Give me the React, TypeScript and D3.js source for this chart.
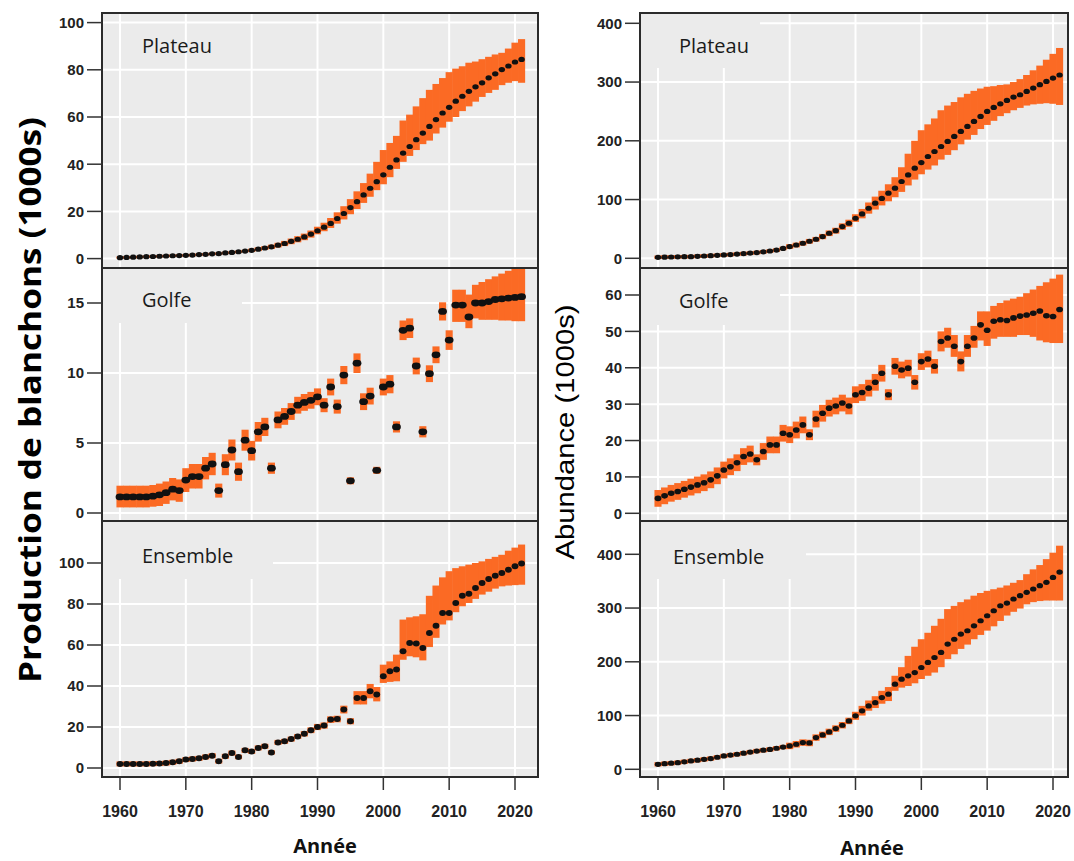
import * as d3 from 'd3'
import React from 'react'

// années 1960 à 2021
const years = d3.range(1960, 2022)
const yearTicks = [1960, 1970, 1980, 1990, 2000, 2010, 2020]

const plateauProdTicks = [0, 20, 40, 60, 80, 100]
const golfeProdTicks = [0, 5, 10, 15]
const ensembleProdTicks = [0, 20, 40, 60, 80, 100]
const plateauAbunTicks = [0, 100, 200, 300, 400]
const golfeAbunTicks = [0, 10, 20, 30, 40, 50, 60]
const ensembleAbunTicks = [0, 100, 200, 300, 400]

// Production de blanchons - Plateau
const plateauProdMean = [
  0.4, 0.5, 0.6, 0.7, 0.8, 0.9, 1.0, 1.1, 1.2, 1.3,
  1.4, 1.5, 1.7, 1.8, 2.0, 2.1, 2.4, 2.6, 2.9, 3.2,
  3.5, 4.0, 4.5, 5.0, 5.7, 6.4, 7.3, 8.2, 9.2, 10.4,
  11.8, 13.3, 14.9, 17.0, 19.1, 21.6, 24.1, 27.0, 29.8, 32.6,
  35.5, 38.7, 41.8, 44.7, 47.5, 50.4, 53.2, 56.0, 58.9, 61.7,
  64.1, 66.7, 68.8, 70.9, 72.8, 74.5, 76.6, 78.3, 80.1, 81.6, 83.3, 84.4,
]
const plateauProdLow = [
  0.0, 0.0, 0.1, 0.2, 0.3, 0.4, 0.5, 0.6, 0.7, 0.8,
  0.9, 1.0, 1.2, 1.3, 1.5, 1.6, 1.9, 2.1, 2.4, 2.7,
  2.8, 3.2, 3.7, 4.1, 4.7, 5.3, 6.1, 6.9, 7.8, 8.9,
  10.3, 11.6, 13.0, 14.8, 16.6, 18.8, 21.0, 23.6, 26.2, 29.0,
  31.5, 34.5, 38.0, 41.0, 43.5, 46.0, 48.5, 50.0, 53.0, 55.5,
  58.0, 60.0, 62.5, 64.5, 66.5, 68.5, 70.2, 71.5, 73.5, 74.5, 75.2, 74.5,
]
const plateauProdHigh = [
  0.9, 1.0, 1.1, 1.2, 1.3, 1.4, 1.5, 1.6, 1.7, 1.8,
  1.9, 2.0, 2.2, 2.3, 2.5, 2.6, 2.9, 3.1, 3.4, 3.7,
  4.2, 4.8, 5.3, 5.9, 6.7, 7.5, 8.5, 9.5, 10.6, 11.9,
  13.5, 15.2, 17.2, 19.6, 22.2, 25.2, 28.5, 32.0, 36.0, 41.0,
  46.0, 49.0, 52.0, 58.5, 61.0, 64.5, 68.0, 71.5, 74.0, 76.5,
  79.0, 80.5, 81.5, 83.0, 83.5, 84.5, 85.5, 86.5, 87.2, 89.0, 91.5, 93.0,
]

// Production de blanchons - Golfe
const golfeProdMean = [
  1.15, 1.15, 1.15, 1.15, 1.15, 1.2, 1.3, 1.45, 1.7, 1.6,
  2.35, 2.6, 2.6, 3.2, 3.5, 1.6, 3.45, 4.5, 2.95, 5.2,
  4.45, 5.8, 6.15, 3.2, 6.65, 6.9, 7.25, 7.7, 7.9, 8.05,
  8.3, 7.7, 9.0, 7.6, 9.85, 2.3, 10.7, 7.95, 8.35, 3.05,
  9.0, 9.2, 6.15, 13.05, 13.2, 10.5, 5.8, 9.95, 11.3, 14.4,
  12.35, 14.85, 14.85, 14.0, 15.0, 15.0, 15.1, 15.25, 15.3, 15.35, 15.4, 15.45,
]
const golfeProdLow = [
  0.4, 0.4, 0.4, 0.4, 0.4, 0.45, 0.5, 0.65, 0.9, 0.8,
  1.5, 1.75, 1.75, 2.4, 2.7, 1.1, 2.7, 3.75, 2.3, 4.45,
  3.75, 5.1, 5.5, 2.8, 6.05, 6.3, 6.65, 7.1, 7.3, 7.45,
  7.7, 7.2, 8.4, 7.1, 9.2, 2.05, 10.0, 7.35, 7.75, 2.8,
  8.4, 8.55, 5.75, 12.35, 12.5, 9.9, 5.4, 9.35, 10.7, 13.75,
  11.65, 13.65, 13.65, 13.2, 13.9, 13.8, 13.8, 13.8, 13.75, 13.75, 13.7, 13.7,
]
const golfeProdHigh = [
  1.95, 1.95, 1.95, 1.95, 1.95, 2.0, 2.1, 2.25, 2.5, 2.4,
  3.2, 3.5, 3.5, 4.0, 4.3, 2.1, 4.2, 5.25, 3.6, 5.95,
  5.15, 6.5, 6.8, 3.6, 7.25, 7.5, 7.85, 8.3, 8.5, 8.65,
  8.9, 8.2, 9.6, 8.1, 10.5, 2.55, 11.4, 8.55, 8.95, 3.3,
  9.6, 9.85, 6.55, 13.75, 13.9, 11.1, 6.2, 10.55, 11.9, 15.05,
  13.05, 15.95, 15.95, 15.6, 16.3, 16.5, 16.7, 16.9, 17.1, 17.3, 17.5, 17.6,
]

// Production de blanchons - Ensemble
const ensembleProdMean = [
  2.0, 2.0, 2.0, 2.0, 2.0, 2.1, 2.2, 2.4, 2.8, 3.3,
  4.1, 4.4, 4.7, 5.4, 6.0, 3.3, 5.7, 7.3, 5.4, 8.6,
  8.1, 9.8, 10.6, 7.6, 12.5, 13.0, 14.1, 15.4, 16.7, 18.4,
  20.0, 20.7, 23.6, 23.9, 28.5, 22.8, 34.1, 34.1, 37.4, 35.8,
  44.7, 47.2, 48.0, 56.9, 61.0, 60.7, 58.5, 65.9, 69.4, 75.6,
  75.6, 80.5, 84.0, 85.0, 87.8, 90.2, 92.2, 93.8, 95.1, 96.7, 98.4, 99.7,
]
const ensembleProdLow = [
  0.8, 0.8, 0.8, 0.8, 0.8, 0.9, 1.0, 1.2, 1.6, 2.1,
  2.9, 3.2, 3.5, 4.2, 4.8, 2.2, 4.5, 6.1, 4.3, 7.4,
  6.9, 8.6, 9.4, 6.6, 11.3, 11.8, 12.9, 14.2, 15.4, 17.0,
  18.5, 19.2, 22.0, 22.3, 26.6, 21.3, 31.0, 31.0, 34.0, 32.5,
  41.5, 42.0, 42.3, 52.8, 54.5, 54.0, 52.5, 59.0, 63.5, 70.0,
  72.0, 76.0, 78.9, 80.5, 82.5, 84.6, 86.0, 87.5, 88.6, 89.0, 89.2, 89.4,
]
const ensembleProdHigh = [
  3.2, 3.2, 3.2, 3.2, 3.2, 3.3, 3.4, 3.6, 4.0, 4.5,
  5.3, 5.6, 5.9, 6.6, 7.2, 4.4, 6.9, 8.5, 6.5, 9.8,
  9.3, 11.0, 11.8, 8.6, 13.7, 14.2, 15.3, 16.6, 18.0, 19.8,
  21.5, 22.2, 25.2, 25.5, 30.4, 24.3, 37.5, 37.5, 41.0, 39.5,
  50.4, 52.0, 55.3, 72.4, 73.5, 74.0, 75.0, 84.0, 89.0, 93.0,
  96.0, 97.5, 98.4, 99.2, 100.0, 100.8, 102.0, 103.0, 104.0, 106.0, 107.5, 109.0,
]

// Abondance - Plateau
const plateauAbunMean = [
  1.7, 2.0, 2.2, 2.5, 2.7, 2.8, 3.4, 3.9, 4.5, 5.1,
  5.7, 6.4, 7.2, 8.0, 8.8, 9.7, 11.0, 12.4, 14.0, 16.8,
  20.0, 22.6, 25.6, 29.0, 32.4, 37.0, 42.6, 47.0, 54.0, 59.7,
  68.2, 75.6, 85.2, 93.8, 102.0, 110.8, 119.3, 130.7, 142.0, 153.4,
  163.0, 173.3, 181.8, 190.3, 198.9, 207.4, 216.0, 224.4, 233.0, 241.5,
  250.0, 256.8, 263.0, 268.8, 274.4, 278.4, 284.0, 289.8, 295.5, 301.0, 306.8, 312.0,
]
const plateauAbunLow = [
  -1.3, -1.0, -0.8, -0.5, -0.3, -0.2, 0.4, 0.9, 1.5, 2.1,
  2.7, 3.4, 4.2, 5.0, 5.8, 6.7, 8.0, 9.4, 11.0, 13.8,
  16.0, 18.6, 21.6, 25.0, 28.4, 32.5, 37.8, 42.0, 48.5, 53.7,
  62, 68, 76, 83, 90, 97, 104, 113, 124, 134,
  143, 151, 158, 168, 176, 184, 194, 202, 210, 220,
  227, 234, 242, 247, 252, 256, 260, 262, 263, 264, 263, 261,
]
const plateauAbunHigh = [
  4.7, 5.0, 5.2, 5.5, 5.7, 5.8, 6.4, 6.9, 7.5, 8.1,
  8.7, 9.4, 10.2, 11.0, 11.8, 12.7, 14.0, 15.4, 17.0, 19.8,
  24.0, 26.6, 29.6, 33.0, 36.4, 41.5, 47.4, 52.0, 59.5, 65.7,
  75, 84, 95, 105, 115, 126, 138, 155, 178, 200,
  218, 228, 238, 252, 260, 266, 274, 280, 285, 289,
  292, 293, 295, 296, 300, 305, 312, 320, 328, 338, 348, 358,
]

// Abondance - Golfe
const golfeAbunMean = [
  4.1, 4.8, 5.5, 6.0, 6.6, 7.2, 7.8, 8.4, 9.2, 10.3,
  11.9, 12.8, 13.9, 15.6, 16.3, 14.7, 17.0, 18.8, 18.8, 22.0,
  21.6, 22.9, 24.3, 21.6, 25.9, 27.5, 28.9, 29.5, 30.3, 29.5,
  32.6, 33.2, 34.4, 36.0, 38.5, 32.6, 40.4, 39.4, 39.9, 36.0,
  41.7, 42.4, 40.4, 47.2, 48.2, 45.9, 41.7, 45.9, 48.2, 51.8,
  50.3, 52.8, 53.2, 53.0, 53.7, 54.2, 54.5, 55.0, 55.6, 54.3, 54.1, 56.0,
]
const golfeAbunLow = [
  1.8, 2.5, 3.2, 3.7, 4.3, 4.9, 5.5, 6.1, 6.9, 8.0,
  9.6, 10.5, 11.6, 13.3, 14.0, 13.2, 14.7, 16.5, 16.5, 19.7,
  19.3, 20.6, 22.0, 20.1, 23.6, 25.2, 26.6, 27.2, 28.0, 27.2,
  30.3, 30.9, 32.1, 33.7, 36.2, 31.1, 38.1, 37.1, 37.6, 34.0,
  39.4, 40.1, 38.4, 44.5, 45.5, 43.0, 39.0, 43.0, 45.5, 47.5,
  46.0, 48.0, 48.5, 48.5, 48.5, 49.0, 49.0, 48.5, 47.5, 47.0, 46.8, 46.8,
]
const golfeAbunHigh = [
  6.4, 7.1, 7.8, 8.3, 8.9, 9.5, 10.1, 10.7, 11.5, 12.6,
  14.2, 15.1, 16.2, 17.9, 18.6, 16.2, 19.3, 21.1, 21.1, 24.3,
  23.9, 25.2, 26.6, 23.1, 28.2, 29.8, 31.2, 31.8, 32.6, 31.8,
  34.9, 35.5, 36.7, 38.3, 40.8, 34.1, 42.7, 41.7, 42.2, 38.0,
  44.0, 44.7, 42.4, 50.0, 51.0, 49.0, 44.5, 49.0, 51.5, 55.5,
  55.5, 57.0, 57.8, 58.5, 59.0, 59.5, 60.5, 61.5, 62.5, 63.5, 64.5, 65.6,
]

// Abondance - Ensemble
const ensembleAbunMean = [
  9.3, 10.4, 11.4, 12.4, 14.0, 15.5, 17.0, 18.5, 20.0, 22.4,
  24.8, 26.4, 28.0, 30.0, 32.0, 34.0, 35.5, 37.0, 39.2, 41.4,
  43.5, 46.6, 49.7, 49.0, 59.0, 64.0, 69.6, 75.8, 82.0, 90.0,
  99.4, 108.7, 118.0, 124.0, 133.5, 139.8, 158.4, 167.7, 174.0, 180.0,
  189.4, 198.8, 208.0, 217.4, 233.0, 242.0, 251.6, 257.8, 267.0, 276.4,
  285.7, 295.0, 304.3, 309.3, 316.8, 323.0, 329.2, 335.4, 341.6, 347.8, 357.0, 367.0,
]
const ensembleAbunLow = [
  5.3, 6.4, 7.4, 8.4, 10.0, 11.5, 13.0, 14.5, 16.0, 18.4,
  20.8, 22.4, 24.0, 26.0, 28.0, 30.0, 31.5, 33.0, 35.2, 37.4,
  37.5, 40.6, 43.7, 43.0, 53.0, 58.0, 63.6, 69.8, 76.0, 84.0,
  92, 100, 109, 114, 122, 127, 146, 152, 155, 160,
  168, 174, 180, 190, 205, 214, 224, 232, 242, 250,
  258, 266, 276, 286, 293, 299, 307, 311, 313, 314, 314, 314,
]
const ensembleAbunHigh = [
  13.3, 14.4, 15.4, 16.4, 18.0, 19.5, 21.0, 22.5, 24.0, 26.4,
  28.8, 30.4, 32.0, 34.0, 36.0, 38.0, 39.5, 41.0, 43.2, 45.4,
  49.5, 52.6, 55.7, 55.0, 65.0, 70.0, 75.6, 81.8, 88.0, 96.0,
  107, 118, 128, 136, 146, 153, 174, 190, 211, 228,
  242, 254, 267, 280, 298, 304, 311, 316, 323, 328,
  332, 335, 338, 342, 347, 352, 363, 372, 380, 391, 403, 416,
]

const ORANGE = '#fb6a24'
const PANEL_BG = '#ebebeb'
const TICK_FONT = "'Liberation Sans', Arial, sans-serif"
const LABEL_FONT = "'Open Sans', 'Noto Sans', sans-serif"

const columns = {
  L: { x0: 102, x1: 538, xr: [120, 515] },
  R: { x0: 640, x1: 1068, xr: [658, 1053] },
}
const rows = [
  { y0: 13, y1: 268 },
  { y0: 268, y1: 521 },
  { y0: 521, y1: 777 },
]

const panels = [
  { id: 'lp', col: 'L', row: 0, label: 'Plateau', mean: plateauProdMean, low: plateauProdLow, high: plateauProdHigh, ticks: plateauProdTicks, zeroPx: 258.6, topPx: 22.6, lx: 142, ly: 53, cover: null, mk: [3.2, 2.6] },
  { id: 'lg', col: 'L', row: 1, label: 'Golfe', mean: golfeProdMean, low: golfeProdLow, high: golfeProdHigh, ticks: golfeProdTicks, zeroPx: 513, topPx: 303, lx: 142, ly: 307, cover: [242, 323], mk: [4.4, 3.4] },
  { id: 'le', col: 'L', row: 2, label: 'Ensemble', mean: ensembleProdMean, low: ensembleProdLow, high: ensembleProdHigh, ticks: ensembleProdTicks, zeroPx: 768, topPx: 563, lx: 142, ly: 563, cover: [273, 579], mk: [3.4, 3] },
  { id: 'rp', col: 'R', row: 0, label: 'Plateau', mean: plateauAbunMean, low: plateauAbunLow, high: plateauAbunHigh, ticks: plateauAbunTicks, zeroPx: 258.3, topPx: 23.3, lx: 679, ly: 53, cover: [760, 68], mk: [3.2, 2.6] },
  { id: 'rg', col: 'R', row: 1, label: 'Golfe', mean: golfeAbunMean, low: golfeAbunLow, high: golfeAbunHigh, ticks: golfeAbunTicks, zeroPx: 513.3, topPx: 295, lx: 679, ly: 308, cover: [780, 325], mk: [3.4, 2.8] },
  { id: 're', col: 'R', row: 2, label: 'Ensemble', mean: ensembleAbunMean, low: ensembleAbunLow, high: ensembleAbunHigh, ticks: ensembleAbunTicks, zeroPx: 769.3, topPx: 554.3, lx: 673, ly: 564, cover: [806, 579], mk: [3.2, 2.6] },
]

const Panel = ({ p }: { p: any }) => {
  const c = columns[p.col as 'L' | 'R']
  const r = rows[p.row]
  const x = d3.scaleLinear().domain([1960, 2020]).range(c.xr)
  const yMax = p.ticks[p.ticks.length - 1]
  const y = d3.scaleLinear().domain([0, yMax]).range([p.zeroPx, p.topPx])
  const bw = (x(1961) - x(1960)) * 1.08

  return (
    <g>
      <defs>
        <clipPath id={`clip-${p.id}`}>
          <rect x={c.x0} y={r.y0} width={c.x1 - c.x0} height={r.y1 - r.y0} />
        </clipPath>
      </defs>
      <rect x={c.x0} y={r.y0} width={c.x1 - c.x0} height={r.y1 - r.y0} fill={PANEL_BG} />
      <g clipPath={`url(#clip-${p.id})`}>
        {p.ticks.map((t: number) => (
          <line key={`h${t}`} x1={c.x0} x2={c.x1} y1={y(t)} y2={y(t)} stroke="#fff" strokeWidth={2} />
        ))}
        {yearTicks.map((t) => (
          <line key={`v${t}`} x1={x(t)} x2={x(t)} y1={r.y0} y2={r.y1} stroke="#fff" strokeWidth={2} />
        ))}
        {p.cover && (
          <rect x={c.x0} y={r.y0} width={p.cover[0] - c.x0} height={p.cover[1] - r.y0} fill={PANEL_BG} />
        )}
        {years.map((yr, i) => (
          <rect
            key={`e${yr}`}
            x={x(yr) - bw / 2}
            y={y(p.high[i])}
            width={bw}
            height={Math.max(1, y(p.low[i]) - y(p.high[i]))}
            fill={ORANGE}
          />
        ))}
        {years.map((yr, i) => (
          <ellipse key={`m${yr}`} cx={x(yr)} cy={y(p.mean[i])} rx={p.mk[0]} ry={p.mk[1]} fill="#111" />
        ))}
      </g>
      <rect x={c.x0} y={r.y0} width={c.x1 - c.x0} height={r.y1 - r.y0} fill="none" stroke="#2b2b2b" strokeWidth={2} />
      <text x={p.lx} y={p.ly} fontFamily={LABEL_FONT} fontSize={20} fill="#1a1a1a">
        {p.label}
      </text>
      {p.ticks.map((t: number) => (
        <g key={`t${t}`}>
          <line x1={c.x0 - 15} x2={c.x0} y1={y(t)} y2={y(t)} stroke="#333" strokeWidth={1.5} />
          <text
            x={c.x0 - 18}
            y={y(t)}
            dy="0.36em"
            textAnchor="end"
            fontFamily={TICK_FONT}
            fontWeight="bold"
            fontSize={15}
            fill="#222"
          >
            {t}
          </text>
        </g>
      ))}
      {p.row === 2 &&
        yearTicks.map((t) => (
          <g key={`xt${t}`}>
            <line x1={x(t)} x2={x(t)} y1={r.y1} y2={r.y1 + 13} stroke="#333" strokeWidth={1.5} />
            <text
              x={x(t)}
              y={r.y1 + 40}
              textAnchor="middle"
              fontFamily={TICK_FONT}
              fontWeight="bold"
              fontSize={16}
              fill="#222"
            >
              {t}
            </text>
          </g>
        ))}
    </g>
  )
}

const App = () => {
  return (
    <svg
      width={1074}
      height={861}
      style={{ position: 'absolute', left: 0, top: 0, background: '#fff' }}
    >
      {panels.map((p) => (
        <Panel key={p.id} p={p} />
      ))}
      <text
        transform="translate(41, 400) rotate(-90)"
        textAnchor="middle"
        fontFamily={LABEL_FONT}
        fontWeight="bold"
        fontSize={30}
        textLength={566}
        lengthAdjust="spacingAndGlyphs"
        fill="#000"
      >
        Production de blanchons (1000s)
      </text>
      <text
        transform="translate(574, 432) rotate(-90)"
        textAnchor="middle"
        fontFamily={TICK_FONT}
        fontSize={25}
        textLength={255}
        lengthAdjust="spacingAndGlyphs"
        fill="#000"
      >
        Abundance (1000s)
      </text>
      <text x={325} y={853} textAnchor="middle" fontFamily={LABEL_FONT} fontWeight="bold" fontSize={20} fill="#111">
        Année
      </text>
      <text x={872} y={855} textAnchor="middle" fontFamily={LABEL_FONT} fontWeight="bold" fontSize={20} fill="#111">
        Année
      </text>
    </svg>
  )
}

export default App
